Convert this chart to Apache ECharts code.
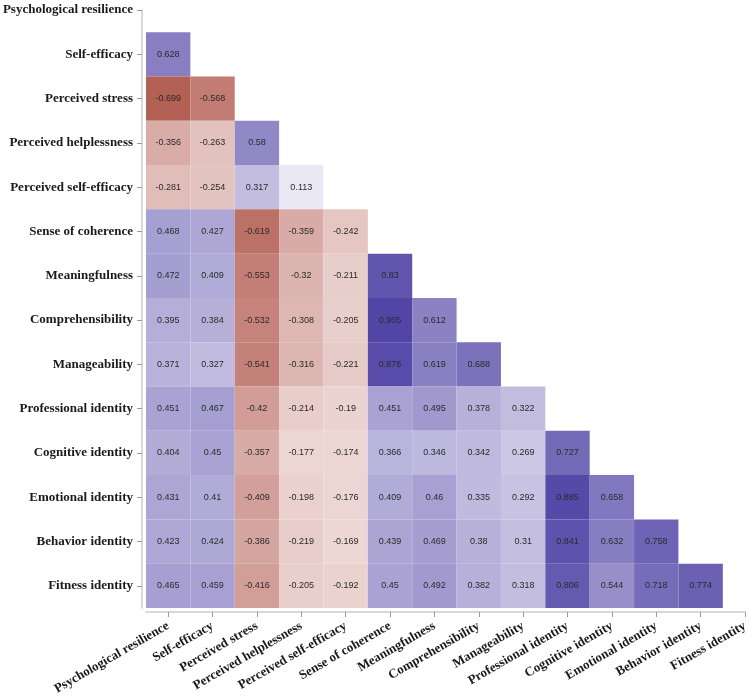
<!DOCTYPE html>
<html>
<head>
<meta charset="utf-8">
<script src="https://cdn.jsdelivr.net/npm/echarts@6/dist/echarts.min.js"></script>
<style>
  html, body { margin: 0; padding: 0; background: #fff; }
  #chart { width: 753px; height: 696px; }
</style>
</head>
<body>
<div id="chart"></div>
<script>
// variable names, same order on both axes
var names = [
  'Psychological resilience', 'Self-efficacy', 'Perceived stress',
  'Perceived helplessness', 'Perceived self-efficacy', 'Sense of coherence',
  'Meaningfulness', 'Comprehensibility', 'Manageability',
  'Professional identity', 'Cognitive identity', 'Emotional identity',
  'Behavior identity', 'Fitness identity'
];

// lower triangle, row i has i values (row 0 is empty)
var rows = [
  [],
  [0.628],
  [-0.699, -0.568],
  [-0.356, -0.263, 0.58],
  [-0.281, -0.254, 0.317, 0.113],
  [0.468, 0.427, -0.619, -0.359, -0.242],
  [0.472, 0.409, -0.553, -0.32, -0.211, 0.83],
  [0.395, 0.384, -0.532, -0.308, -0.205, 0.905, 0.612],
  [0.371, 0.327, -0.541, -0.316, -0.221, 0.876, 0.619, 0.688],
  [0.451, 0.467, -0.42, -0.214, -0.19, 0.451, 0.495, 0.378, 0.322],
  [0.404, 0.45, -0.357, -0.177, -0.174, 0.366, 0.346, 0.342, 0.269, 0.727],
  [0.431, 0.41, -0.409, -0.198, -0.176, 0.409, 0.46, 0.335, 0.292, 0.885, 0.658],
  [0.423, 0.424, -0.386, -0.219, -0.169, 0.439, 0.469, 0.38, 0.31, 0.841, 0.632, 0.758],
  [0.465, 0.459, -0.416, -0.205, -0.192, 0.45, 0.492, 0.382, 0.318, 0.806, 0.544, 0.718, 0.774]
];

var ticks = names.map(function (n, i) { return i; });

var cells = [];
rows.forEach(function (row, i) {
  row.forEach(function (v, j) {
    cells.push([j, i, v]);
  });
});

var labelFont = {
  fontFamily: 'Liberation Serif',
  fontWeight: 'bold',
  fontSize: 13,
  color: '#1a1a1a'
};

var chart = echarts.init(document.getElementById('chart'));

chart.setOption({
  animation: false,
  grid: { left: 146, right: 8, top: 10, bottom: 88, outerBoundsMode: 'none' },
  xAxis: {
    type: 'value',
    position: 'bottom',
    min: -0.5,
    max: 13,
    offset: 4,
    splitLine: { show: false },
    axisLine: { show: true, onZero: false, lineStyle: { color: '#cccccc', width: 1.5 } },
    axisTick: { show: true, length: 5, customValues: ticks, lineStyle: { color: '#999' } },
    axisLabel: Object.assign({
      customValues: ticks,
      rotate: 30,
      margin: 13,
      formatter: function (v) { return names[v]; }
    }, labelFont)
  },
  yAxis: {
    type: 'value',
    position: 'left',
    inverse: true,
    min: 0,
    max: 13.5,
    offset: 4,
    splitLine: { show: false },
    axisLine: { show: true, onZero: false, lineStyle: { color: '#cccccc', width: 1.5 } },
    axisTick: { show: true, length: 5, customValues: ticks, lineStyle: { color: '#999' } },
    axisLabel: Object.assign({
      customValues: ticks,
      margin: 9,
      formatter: function (v) { return names[v]; }
    }, labelFont)
  },
  visualMap: {
    show: false,
    type: 'continuous',
    dimension: 2,
    min: -1,
    max: 1,
    inRange: { color: ['#92200f', '#c98a83', '#ffffff', '#a098ce', '#41329d'] }
  },
  series: [{
    type: 'custom',
    data: cells,
    encode: { x: 0, y: 1 },
    renderItem: function (params, api) {
      var p = api.coord([api.value(0), api.value(1)]);
      var s = api.size([1, 1]);
      var w = Math.abs(s[0]), h = Math.abs(s[1]);
      return {
        type: 'rect',
        shape: { x: p[0] - w / 2, y: p[1] - h / 2, width: w, height: h },
        style: { fill: api.visual('color') },
        textContent: {
          style: {
            text: String(api.value(2)),
            fill: '#2a2a2a',
            fontSize: 9,
            fontFamily: 'Liberation Sans'
          }
        },
        textConfig: { position: 'inside' }
      };
    }
  }]
});
</script>
</body>
</html>
